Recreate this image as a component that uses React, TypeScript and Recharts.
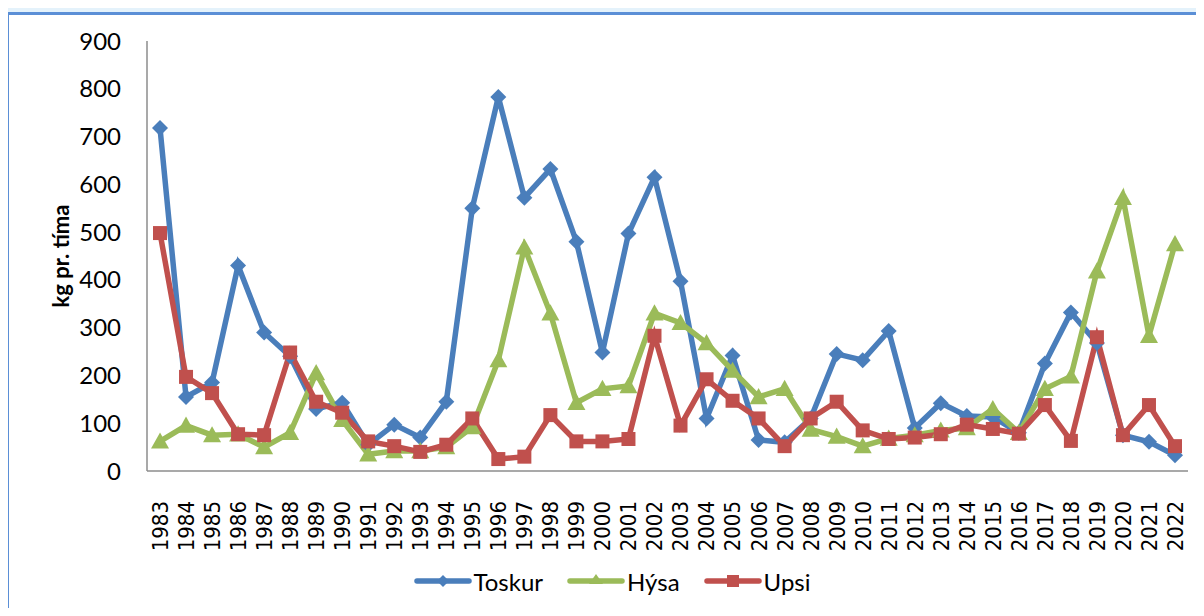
import { LineChart, Line, XAxis, YAxis, Legend, Label } from "recharts"

const YEARS = [
  "1983", "1984", "1985", "1986", "1987", "1988", "1989", "1990", "1991", "1992",
  "1993", "1994", "1995", "1996", "1997", "1998", "1999", "2000", "2001", "2002",
  "2003", "2004", "2005", "2006", "2007", "2008", "2009", "2010", "2011", "2012",
  "2013", "2014", "2015", "2016", "2017", "2018", "2019", "2020", "2021", "2022",
]

const TOSKUR = [
  718, 155, 185, 430, 290, 240, 130, 143, 55, 97,
  70, 145, 550, 783, 572, 632, 480, 248, 497, 615,
  397, 110, 242, 65, 60, 110, 245, 232, 293, 90,
  142, 115, 113, 80, 225, 332, 268, 75, 61, 33,
]

const HYSA = [
  62, 95, 75, 77, 50, 80, 205, 107, 35, 42,
  42, 50, 92, 232, 468, 330, 143, 172, 178, 330,
  310, 268, 210, 155, 172, 87, 72, 52, 68, 75,
  85, 90, 130, 80, 172, 198, 418, 572, 283, 475,
]

const UPSI = [
  498, 197, 163, 77, 75, 248, 145, 122, 62, 52,
  40, 55, 110, 25, 30, 117, 62, 62, 67, 283,
  95, 192, 147, 110, 52, 110, 145, 85, 67, 70,
  77, 97, 88, 78, 138, 63, 280, 75, 138, 52,
]

const Y_TICKS = [0, 100, 200, 300, 400, 500, 600, 700, 800, 900]

const BLUE = "#4a7ebb"
const GREEN = "#9bbb59"
const RED = "#c0504d"
const FONT = "Lato, 'Open Sans', sans-serif"

const data = YEARS.map((year, i) => ({
  year,
  Toskur: TOSKUR[i],
  Hysa: HYSA[i],
  Upsi: UPSI[i],
}))

function Diamond(props: any) {
  const { cx, cy } = props
  if (cx == null || cy == null) return null
  const r = 8
  return <path d={`M${cx},${cy - r}L${cx + r},${cy}L${cx},${cy + r}L${cx - r},${cy}Z`} fill={BLUE} />
}

function Triangle(props: any) {
  const { cx, cy } = props
  if (cx == null || cy == null) return null
  const r = 9
  return <path d={`M${cx},${cy - r}L${cx + r},${cy + r * 0.8}L${cx - r},${cy + r * 0.8}Z`} fill={GREEN} />
}

function Square(props: any) {
  const { cx, cy } = props
  if (cx == null || cy == null) return null
  const r = 7
  return <rect x={cx - r} y={cy - r} width={r * 2} height={r * 2} fill={RED} />
}

function YearTick(props: any) {
  const { x, y, payload } = props
  return (
    <g transform={`translate(${x},${y})`}>
      <text
        transform="rotate(-90)"
        x={-22}
        y={0}
        dy="0.36em"
        textAnchor="end"
        fill="#000"
        style={{ fontFamily: "'DejaVu Sans Condensed', 'DejaVu Sans', sans-serif", fontStretch: "condensed", fontSize: 22 }}
      >
        {payload.value}
      </text>
    </g>
  )
}

const LEGEND_ITEMS = [
  { name: "Toskur", color: BLUE, shape: "diamond" },
  { name: "Hýsa", color: GREEN, shape: "triangle" },
  { name: "Upsi", color: RED, shape: "square" },
]

function LegendContent() {
  return (
    <div style={{ display: "flex", justifyContent: "center", alignItems: "center", height: 30, gap: 24, paddingLeft: 36 }}>
      {LEGEND_ITEMS.map((it) => (
        <div key={it.name} style={{ display: "flex", alignItems: "center" }}>
          <svg width={58} height={20}>
            <line x1={3} y1={10} x2={55} y2={10} stroke={it.color} strokeWidth={5.5} strokeLinecap="round" />
            {it.shape === "diamond" && <path d="M29,4L35,10L29,16L23,10Z" fill={it.color} />}
            {it.shape === "triangle" && <path d="M29,3L36,13L22,13Z" fill={it.color} />}
            {it.shape === "square" && <rect x={23} y={4} width={12} height={12} fill={it.color} />}
          </svg>
          <span style={{ fontFamily: FONT, fontSize: 24, color: "#000", marginLeft: 2 }}>{it.name}</span>
        </div>
      ))}
    </div>
  )
}

export default function App() {
  return (
    <div style={{ position: "relative", width: 1204, height: 616, margin: -8, background: "#e4f2fb", overflow: "hidden" }}>
      <div
        style={{
          position: "absolute",
          left: 6,
          top: 12,
          right: -10,
          bottom: -10,
          background: "#fff",
          borderLeft: "3px solid #5b8fd6",
          borderTop: "3px solid #5b8fd6",
        }}
      />
      <div style={{ position: "absolute", left: 0, top: 0 }}>
        <LineChart width={1204} height={616} data={data} margin={{ top: 41, right: 16, left: 0, bottom: 0 }}>
          <XAxis
            dataKey="year"
            interval={0}
            tickLine={false}
            axisLine={{ stroke: "#8c8c8c", strokeWidth: 1.5 }}
            tick={<YearTick />}
            height={95}
            padding={{ left: 13, right: 13 }}
          />
          <YAxis
            domain={[0, 900]}
            ticks={Y_TICKS}
            interval={0}
            width={147}
            tickLine={false}
            axisLine={{ stroke: "#8c8c8c", strokeWidth: 1.5 }}
            tickMargin={20}
            tick={{ fill: "#000", fontSize: 24, fontFamily: FONT }}
          >
            <Label
              value="kg pr. tíma"
              angle={-90}
              position="center"
              dx={-12}
              style={{ fontFamily: FONT, fontSize: 22, fontWeight: 700, fill: "#000" }}
            />
          </YAxis>
          <Legend verticalAlign="bottom" height={50} content={<LegendContent />} />
          <Line dataKey="Toskur" name="Toskur" stroke={BLUE} strokeWidth={5.5} dot={<Diamond />} activeDot={false} isAnimationActive={false} />
          <Line dataKey="Hysa" name="Hýsa" stroke={GREEN} strokeWidth={5.5} dot={<Triangle />} activeDot={false} isAnimationActive={false} />
          <Line dataKey="Upsi" name="Upsi" stroke={RED} strokeWidth={5.5} dot={<Square />} activeDot={false} isAnimationActive={false} />
        </LineChart>
      </div>
    </div>
  )
}
